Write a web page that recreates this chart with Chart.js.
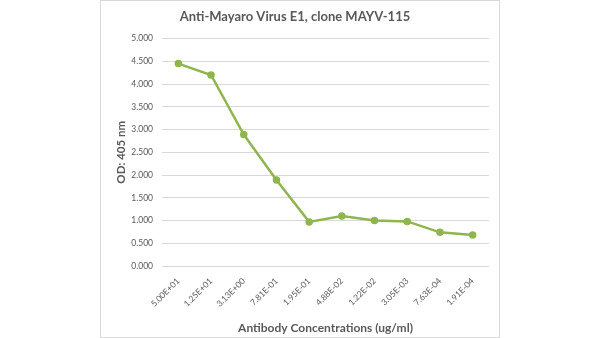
<!DOCTYPE html>
<html>
<head>
<meta charset="utf-8">
<script src="https://cdn.jsdelivr.net/npm/chart.js@4"></script>
<style>
  html, body { margin: 0; padding: 0; background: #fff; }
  #frame {
    position: absolute; left: 100px; top: 0; width: 398px; height: 336px;
    border: 1px solid #d9d9d9; background: #fff;
  }
  canvas { display: block; }
</style>
</head>
<body>
<div id="frame"><canvas id="odChart" width="398" height="336"></canvas></div>
<script>
// dilution series, ug/ml
const concLabels = [
  "5.00E+01", "1.25E+01", "3.13E+00", "7.81E-01", "1.95E-01",
  "4.88E-02", "1.22E-02", "3.05E-03", "7.63E-04", "1.91E-04"
];
// OD at 405 nm
const odValues = [4.45, 4.20, 2.89, 1.89, 0.97, 1.10, 1.00, 0.98, 0.74, 0.68];
const yTicks = [0, 0.5, 1, 1.5, 2, 2.5, 3, 3.5, 4, 4.5, 5];

const txt = "#595959";
const font = "Lato, 'Open Sans', sans-serif";

new Chart(document.getElementById("odChart"), {
  type: "line",
  data: {
    labels: concLabels,
    datasets: [{
      data: odValues,
      borderColor: "#8fb64e",
      backgroundColor: "#8fb64e",
      borderWidth: 2.5,
      pointRadius: 2.5,
      pointHoverRadius: 2.5,
      tension: 0
    }]
  },
  options: {
    responsive: false,
    animation: false,
    layout: { padding: { top: 0, right: 10, left: 0, bottom: 2 } },
    plugins: {
      legend: { display: false },
      tooltip: { enabled: false },
      title: {
        display: true,
        text: "Anti-Mayaro Virus E1, clone MAYV-115",
        color: txt,
        font: { family: font, size: 13, weight: "bold" },
        padding: { top: 8, bottom: 14 }
      }
    },
    scales: {
      x: {
        offset: true,
        grid: { display: false },
        border: { display: false },
        ticks: {
          color: txt, font: { family: font, size: 8.5 },
          minRotation: 45, maxRotation: 45, autoSkip: false, padding: 2
        },
        title: {
          display: true, text: "Antibody Concentrations (ug/ml)", color: txt,
          font: { family: font, size: 12, weight: "bold" }, padding: { top: 4, bottom: 0 }
        },
        afterFit: (s) => { s.height = 69; }
      },
      y: {
        min: 0, max: 5,
        afterBuildTicks: (s) => { s.ticks = yTicks.map((v) => ({ value: v })); },
        grid: { color: "#d9d9d9", lineWidth: 1, drawTicks: false },
        border: { display: false },
        ticks: {
          color: txt, font: { family: font, size: 8.5 }, padding: 9,
          callback: (v) => Number(v).toFixed(3)
        },
        title: {
          display: true, text: "OD: 405 nm", color: txt,
          font: { family: font, size: 11.5, weight: "bold" }, padding: { top: 13, bottom: 0 }
        },
        afterFit: (s) => { s.width = 61; }
      }
    }
  }
});
</script>
</body>
</html>
